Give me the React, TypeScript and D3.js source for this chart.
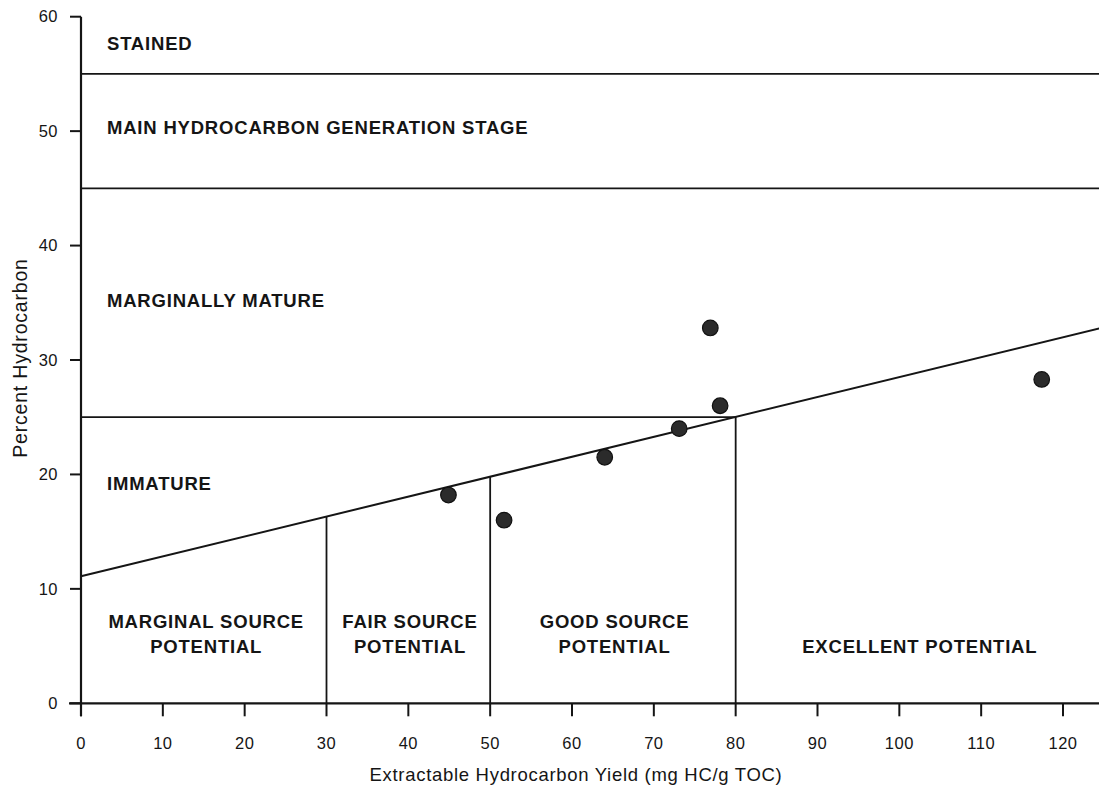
import React from "react";
import * as d3 from "d3";

const xTicks = [0, 10, 20, 30, 40, 50, 60, 70, 80, 90, 100, 110, 120];
const yTicks = [0, 10, 20, 30, 40, 50, 60];

const pointsX = [44.9, 51.7, 64.0, 73.1, 78.1, 76.9, 117.4];
const pointsY = [18.2, 16.0, 21.5, 24.0, 26.0, 32.8, 28.3];

// regression line endpoints
const trendX = [0, 124.5];
const trendIntercept = 11.1;
const trendSlope = 0.174;

// maturity boundaries (horizontal)
const maturityLevels = [55, 45];
const immatureLevel = 25;
const immatureEndX = 80;
// source potential boundaries (vertical)
const sourceBounds = [30, 50, 80];

const maturityLabels = ["STAINED", "MAIN HYDROCARBON GENERATION STAGE", "MARGINALLY MATURE", "IMMATURE"];
const maturityLabelY = [57.7, 50.3, 35.2, 19.2];

const sourceLabels = [
  ["MARGINAL SOURCE", "POTENTIAL"],
  ["FAIR SOURCE", "POTENTIAL"],
  ["GOOD SOURCE", "POTENTIAL"],
  ["EXCELLENT POTENTIAL"],
];
const sourceLabelX = [15.3, 40.2, 65.2, 102.5];

const X_MAX_VIEW = 124.5;

export default function App() {
  const W = 1099;
  const H = 785;
  const x = d3.scaleLinear().domain([0, 120]).range([81, 1063]);
  const y = d3.scaleLinear().domain([0, 60]).range([703.3, 16.7]);
  const trend = (v: number) => trendIntercept + trendSlope * v;
  const line = d3
    .line<number>()
    .x((d) => x(d))
    .y((d) => y(trend(d)));
  const ink = "#151515";
  const font = "'Liberation Sans', Arial, Helvetica, sans-serif";
  const labelStyle: React.CSSProperties = {
    fontFamily: font,
    fontWeight: 700,
    fontSize: 18.5,
    letterSpacing: 0.8,
    fill: ink,
  };
  const tickStyle: React.CSSProperties = {
    fontFamily: font,
    fontSize: 16.5,
    fill: ink,
    letterSpacing: 0.5,
  };

  return (
    <svg
      width={W}
      height={H}
      style={{ position: "absolute", left: 0, top: 0, background: "#fff" }}
    >
      <rect x={0} y={0} width={W} height={H} fill="#fff" />
      {/* horizontal maturity lines */}
      {maturityLevels.map((lv) => (
        <line
          key={lv}
          x1={x(0)}
          x2={x(X_MAX_VIEW)}
          y1={y(lv)}
          y2={y(lv)}
          stroke={ink}
          strokeWidth={1.8}
        />
      ))}
      <line
        x1={x(0)}
        x2={x(immatureEndX)}
        y1={y(immatureLevel)}
        y2={y(immatureLevel)}
        stroke={ink}
        strokeWidth={1.8}
      />
      {/* vertical source lines up to the trend */}
      {sourceBounds.map((b) => (
        <line
          key={b}
          x1={x(b)}
          x2={x(b)}
          y1={y(0)}
          y2={y(trend(b))}
          stroke={ink}
          strokeWidth={1.8}
        />
      ))}
      {/* trend line */}
      <path d={line(trendX) || ""} fill="none" stroke={ink} strokeWidth={2} />

      {/* axes */}
      <line x1={x(0)} x2={x(0)} y1={y(60)} y2={y(0) + 13} stroke={ink} strokeWidth={2.2} />
      <line x1={x(0) - 12} x2={x(X_MAX_VIEW)} y1={y(0)} y2={y(0)} stroke={ink} strokeWidth={2.2} />
      {yTicks.map((t) => (
        <g key={"y" + t}>
          <line x1={x(0) - 11} x2={x(0)} y1={y(t)} y2={y(t)} stroke={ink} strokeWidth={2} />
          <text x={58} y={y(t)} dy="0.35em" textAnchor="end" style={tickStyle}>
            {t}
          </text>
        </g>
      ))}
      {xTicks.map((t) => (
        <g key={"x" + t}>
          <line x1={x(t)} x2={x(t)} y1={y(0)} y2={y(0) + 13} stroke={ink} strokeWidth={2} />
          <text x={x(t)} y={749} textAnchor="middle" style={tickStyle}>
            {t}
          </text>
        </g>
      ))}
      <text
        x={576}
        y={781}
        textAnchor="middle"
        style={{ fontFamily: font, fontSize: 18.5, fill: ink, letterSpacing: 0.7 }}
      >
        Extractable Hydrocarbon Yield (mg HC/g TOC)
      </text>
      <text
        transform={`translate(27, 358) rotate(-90)`}
        textAnchor="middle"
        style={{ fontFamily: font, fontSize: 19.5, fill: ink, letterSpacing: 0.8 }}
      >
        Percent Hydrocarbon
      </text>

      {/* maturity labels */}
      {maturityLabels.map((l, i) => (
        <text key={l} x={107} y={y(maturityLabelY[i])} dy="0.36em" style={labelStyle}>
          {l}
        </text>
      ))}
      {/* source labels */}
      {sourceLabels.map((lines, i) => (
        <text key={i} textAnchor="middle" style={labelStyle}>
          {lines.map((ln, j) => (
            <tspan
              key={j}
              x={x(sourceLabelX[i])}
              y={lines.length === 2 ? 628 + j * 25 : 653}
            >
              {ln}
            </tspan>
          ))}
        </text>
      ))}

      {/* points */}
      {pointsX.map((px, i) => (
        <circle
          key={i}
          cx={x(px)}
          cy={y(pointsY[i])}
          r={7.8}
          fill="#2b2b2b"
          stroke="#111"
          strokeWidth={1.2}
        />
      ))}
    </svg>
  );
}
